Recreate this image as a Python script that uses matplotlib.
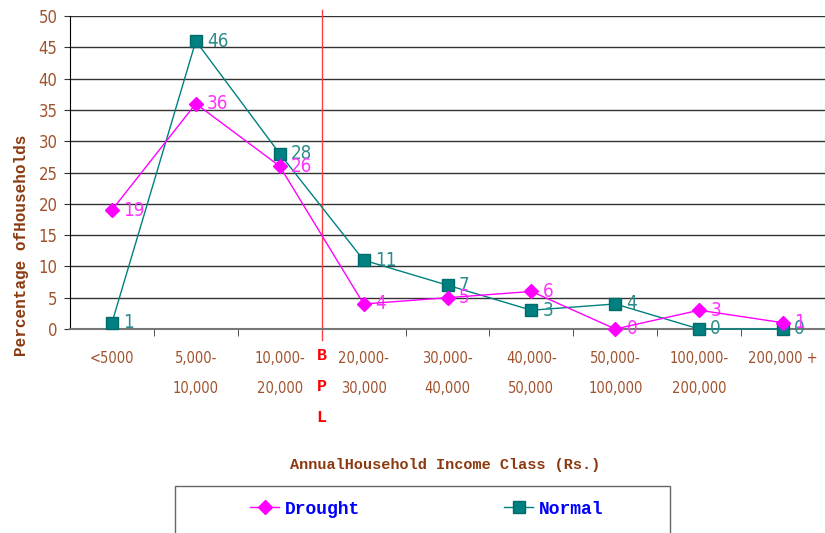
import matplotlib
matplotlib.use("Agg")
import matplotlib.pyplot as plt
from matplotlib.patches import Rectangle
from matplotlib.transforms import blended_transform_factory

# income classes and share of households (%)
classes = ["<5000", "5,000-\n10,000", "10,000-\n20,000", "20,000-\n30,000",
           "30,000-\n40,000", "40,000-\n50,000", "50,000-\n100,000",
           "100,000-\n200,000", "200,000 +"]
drought = [19, 36, 26, 4, 5, 6, 0, 3, 1]
normal = [1, 46, 28, 11, 7, 3, 4, 0, 0]
yticks = [0, 5, 10, 15, 20, 25, 30, 35, 40, 45, 50]

brown = "#a0522d"
dbrown = "#8b3a10"
narrow = "DejaVu Sans"
mono = ["Liberation Mono", "DejaVu Sans Mono"]

fig = plt.figure(figsize=(8.25, 5.33), dpi=100)
ax = fig.add_axes([70 / 825, 1 - 329 / 533, 1 - 70 / 825, 313 / 533])

x = list(range(len(classes)))
ax.plot(x, normal, color="#008080", lw=1, marker="s", ms=8, mfc="#008080",
        mec="#006b6b", zorder=3, clip_on=False, label="Normal")
ax.plot(x, drought, color="#ff00ff", lw=1, marker="D", ms=7, mfc="#ff00ff",
        mec="#ff00ff", zorder=4, clip_on=False, label="Drought")

for i in x:
    ax.annotate(str(normal[i]), (i, normal[i]), xytext=(8, 0), textcoords="offset points",
                va="center", ha="left", color="#2e8b8b", fontsize=13.5, family=narrow,
                stretch="condensed")
    ax.annotate(str(drought[i]), (i, drought[i]), xytext=(8, 0), textcoords="offset points",
                va="center", ha="left", color="#ff33ff", fontsize=13.5, family=narrow,
                stretch="condensed")

ax.set_xlim(-0.5, 8.5)
ax.set_ylim(0, 50)
ax.set_yticks(yticks)
ax.set_yticklabels([str(v) for v in yticks], color=brown, fontsize=12, family=narrow,
                   stretch="condensed")
for v in yticks[1:]:
    ax.axhline(v, color="#333333", lw=1, zorder=1)

ax.set_xticks(x)
ax.set_xticklabels(classes, color=brown, fontsize=10.5, family=narrow, stretch="condensed",
                   linespacing=2.25)
ax.set_xticks([i + 0.5 for i in range(8)], minor=True)
ax.tick_params(axis="x", which="major", length=0, pad=16)
ax.tick_params(axis="x", which="minor", length=5, direction="out", color="#333333")
ax.tick_params(axis="y", length=4, direction="out", pad=5, color="#333333")

for s in ["top", "right"]:
    ax.spines[s].set_visible(False)
ax.spines["bottom"].set_color("#777777")
ax.spines["bottom"].set_linewidth(1.5)
ax.spines["left"].set_color("black")

# poverty line
ax.axvline(2.5, ymin=-0.035, ymax=1.02, color="#ff4040", lw=1, clip_on=False, zorder=2)
tr = blended_transform_factory(ax.transData, fig.transFigure)
for k, ch in enumerate("BPL"):
    ax.text(2.5, 1 - (355 + 31.5 * k) / 533, ch, transform=tr, ha="center", va="center",
            color="red", fontsize=12, fontweight="bold", family=mono)

fig.text(445 / 825, 1 - 465 / 533, "AnnualHousehold Income Class (Rs.)", ha="center",
         va="center", color=dbrown, fontsize=11, fontweight="bold", family=mono)
fig.text(22 / 825, 1 - 245 / 533, "Percentage ofHouseholds", rotation=90, ha="center",
         va="center", color=dbrown, fontsize=11.5, fontweight="bold", family=mono)

fig.patches.append(Rectangle((175 / 825, -0.05), 495 / 825, 0.05 + 1 - 486 / 533,
                             transform=fig.transFigure, fill=False, ec="#666666", lw=1))
h, l = ax.get_legend_handles_labels()
leg = fig.legend(h[::-1], l[::-1], loc="center left", bbox_to_anchor=(234 / 825, 1 - 509 / 533),
                 ncol=2, frameon=False, handlelength=1.6, columnspacing=8.0, handletextpad=0.3,
                 prop={"family": mono, "weight": "bold", "size": 13})
for t in leg.get_texts():
    t.set_color("blue")

fig.savefig("out.png", dpi=100)
